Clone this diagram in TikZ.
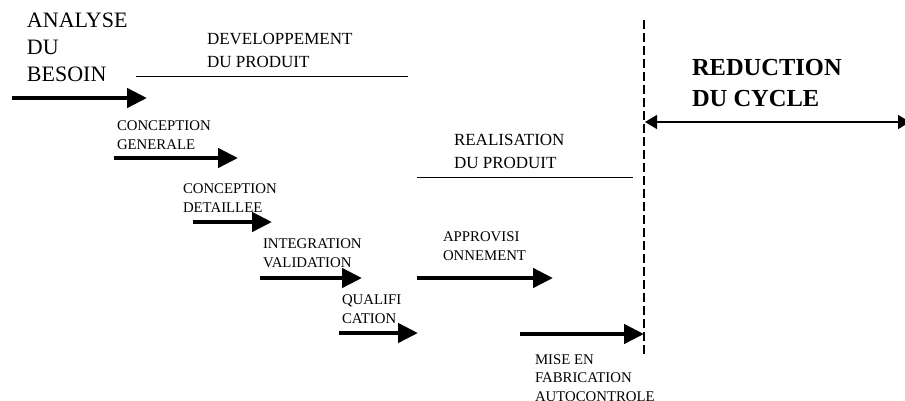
\documentclass[tikz,border=0pt]{standalone}
\usepackage{fontspec}
\setmainfont{Liberation Serif}
\usetikzlibrary{arrows.meta}
\tikzset{
  lbl/.style={anchor=base west, inner sep=0pt, outer sep=0pt, align=left},
  bigtxt/.style={lbl, font=\fontsize{22}{27}\selectfont},
  midtxt/.style={lbl, font=\fontsize{17}{22.5}\selectfont},
  smalltxt/.style={lbl, font=\fontsize{14.8}{18.3}\selectfont},
  boldtxt/.style={lbl, font=\fontsize{24.5}{31}\selectfont\bfseries},
  flow/.style={line width=4.5pt, -{Triangle[length=20pt,width=19pt]}},
  rule/.style={line width=1pt},
  limit/.style={line width=1.5pt, dash pattern=on 9pt off 4pt},
  span/.style={line width=1.5pt, {Triangle[length=12pt,width=14pt]}-{Triangle[length=12pt,width=14pt]}}
}
\begin{document}
\begin{tikzpicture}[x=1pt,y=-1pt]
\useasboundingbox (0,0) rectangle (905,400);

% labels (anchor = baseline of last line)
\node[bigtxt] (analyse) at (27,81) {ANALYSE\\DU\\BESOIN};
\node[midtxt] (dev) at (207,67) {DEVELOPPEMENT\\DU PRODUIT};
\node[midtxt] (real) at (454,168) {REALISATION\\DU PRODUIT};
\node[boldtxt] (red) at (692,106) {REDUCTION\\DU CYCLE};
\node[smalltxt] (cg) at (117,149) {CONCEPTION\\GENERALE};
\node[smalltxt] (cd) at (183,212) {CONCEPTION\\DETAILLEE};
\node[smalltxt] (iv) at (263,267) {INTEGRATION\\VALIDATION};
\node[smalltxt] (qu) at (342,323) {QUALIFI\\CATION};
\node[smalltxt] (ap) at (443,260) {APPROVISI\\ONNEMENT};
\node[smalltxt] (mf) at (535,401) {MISE EN\\FABRICATION\\AUTOCONTROLE};

% coordinates
\coordinate (a1s) at (12,98);   \coordinate (a1e) at (147,98);
\coordinate (a2s) at (114,158); \coordinate (a2e) at (238,158);
\coordinate (a3s) at (193,222); \coordinate (a3e) at (272,222);
\coordinate (a4s) at (260,278); \coordinate (a4e) at (362,278);
\coordinate (a5s) at (339,333); \coordinate (a5e) at (418,333);
\coordinate (a6s) at (417,278); \coordinate (a6e) at (553,278);
\coordinate (a7s) at (520,334); \coordinate (a7e) at (644,334);
\coordinate (devl) at (136,76); \coordinate (devr) at (408,76);
\coordinate (reall) at (417,177); \coordinate (realr) at (633,177);
\coordinate (limtop) at (644,20); \coordinate (limbot) at (644,355);
\coordinate (spl) at (645,122); \coordinate (spr) at (910,122);

% flows
\draw[flow] (a1s) -- (a1e);
\draw[flow] (a2s) -- (a2e);
\draw[flow] (a3s) -- (a3e);
\draw[flow] (a4s) -- (a4e);
\draw[flow] (a5s) -- (a5e);
\draw[flow] (a6s) -- (a6e);
\draw[flow] (a7s) -- (a7e);

% rules
\draw[rule] (devl) -- (devr);
\draw[rule] (reall) -- (realr);
\draw[limit] (limtop) -- (limbot);
\draw[span] (spl) -- (spr);
\end{tikzpicture}
\end{document}
